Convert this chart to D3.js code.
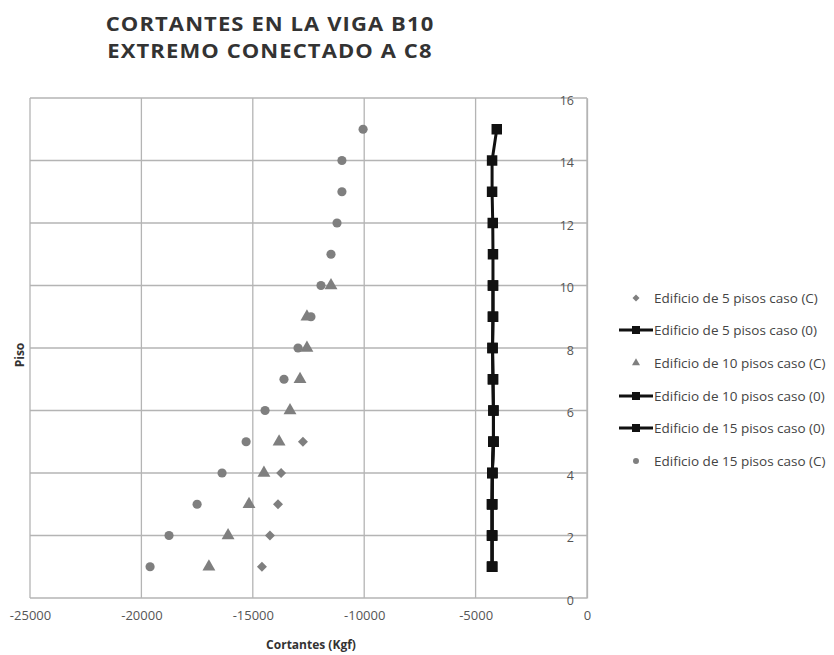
<!DOCTYPE html>
<html><head><meta charset="utf-8">
<script src="https://cdn.jsdelivr.net/npm/d3@7"></script>
<style>body{margin:0;background:#fff}svg{display:block}</style>
</head><body>
<script>
// ---- data ----
const titleLines = ["CORTANTES EN LA VIGA B10", "EXTREMO CONECTADO A C8"];
const xTicks = [-25000, -20000, -15000, -10000, -5000, 0];
const yTicks = [0, 2, 4, 6, 8, 10, 12, 14, 16];

const floors5 = [1, 2, 3, 4, 5];
const floors10 = [1, 2, 3, 4, 5, 6, 7, 8, 9, 10];
const floors15 = [1, 2, 3, 4, 5, 6, 7, 8, 9, 10, 11, 12, 13, 14, 15];

const ed5C = [-14590, -14230, -13870, -13730, -12750];
const ed5O = [-4260, -4260, -4260, -4250, -4200];
const ed10C = [-16970, -16110, -15170, -14500, -13820, -13330, -12880, -12570, -12570, -11490];
const ed10O = [-4260, -4260, -4260, -4250, -4200, -4200, -4220, -4240, -4220, -4220];
const ed15O = [-4260, -4260, -4260, -4250, -4200, -4200, -4220, -4240, -4220, -4220, -4220, -4230, -4260, -4260, -4050];
const ed15C = [-19610, -18760, -17500, -16380, -15300, -14450, -13600, -12970, -12390, -11940, -11490, -11220, -11000, -11000, -10050];

const seriesNames = [
  "Edificio de 5 pisos caso (C)",
  "Edificio de 5 pisos caso (0)",
  "Edificio de 10 pisos caso (C)",
  "Edificio de 10 pisos caso (0)",
  "Edificio de 15 pisos caso (0)",
  "Edificio de 15 pisos caso (C)"
];

const series = [
  {name: seriesNames[0], floors: floors5, vals: ed5C, type: "diamond"},
  {name: seriesNames[1], floors: floors5, vals: ed5O, type: "line"},
  {name: seriesNames[2], floors: floors10, vals: ed10C, type: "triangle"},
  {name: seriesNames[3], floors: floors10, vals: ed10O, type: "line"},
  {name: seriesNames[4], floors: floors15, vals: ed15O, type: "line"},
  {name: seriesNames[5], floors: floors15, vals: ed15C, type: "circle"}
];

// ---- layout ----
const W = 834, H = 655;
const font = "'Open Sans', sans-serif";
const svg = d3.select("body").append("svg").attr("width", W).attr("height", H);

const x = d3.scaleLinear().domain([-25000, 0]).range([30, 587]);
const y = d3.scaleLinear().domain([0, 16]).range([598, 98]);

const grid = "#b4b4b4";
const markGray = "#7f7f7f";

// title
svg.append("g").attr("transform", "translate(270,0) scale(1.1,1)")
  .selectAll("text").data(titleLines).join("text")
  .attr("x", 0).attr("y", (d, i) => 31 + i * 27.5)
  .attr("text-anchor", "middle")
  .attr("font-family", font).attr("font-weight", "bold").attr("font-size", 20)
  .attr("letter-spacing", 1)
  .attr("fill", "#333").text(d => d);

// gridlines
const g = svg.append("g");
g.selectAll("line.h").data(yTicks).join("line").attr("class", "h")
  .attr("x1", x(-25000)).attr("x2", x(0))
  .attr("y1", d => y(d)).attr("y2", d => y(d))
  .attr("stroke", grid).attr("stroke-width", 1.3);
g.selectAll("line.v").data(xTicks).join("line").attr("class", "v")
  .attr("x1", d => x(d)).attr("x2", d => x(d))
  .attr("y1", y(16)).attr("y2", y(0))
  .attr("stroke", grid).attr("stroke-width", 1.3);

// y axis at x=0 (right)
const yAxis = d3.axisLeft(y).tickValues(yTicks).tickSize(0).tickPadding(13);
const ya = svg.append("g").attr("transform", `translate(${x(0)},0)`).call(yAxis);
ya.select(".domain").attr("stroke", grid).attr("stroke-width", 1.3);
ya.selectAll("text").attr("font-family", font).attr("font-size", 12.5).attr("fill", "#555").attr("dy", "0.5em");

// x axis labels
const xAxis = d3.axisBottom(x).tickValues(xTicks).tickSize(0).tickPadding(13).tickFormat(d => String(d));
const xa = svg.append("g").attr("transform", `translate(0,${y(0)})`).call(xAxis);
xa.select(".domain").remove();
xa.selectAll("text").attr("font-family", font).attr("font-size", 13).attr("fill", "#555");

// axis titles
svg.append("text").attr("x", 311).attr("y", 649).attr("text-anchor", "middle")
  .attr("font-family", font).attr("font-weight", "bold").attr("font-size", 12).attr("fill", "#333")
  .text("Cortantes (Kgf)");
svg.append("text").attr("transform", "translate(24,355) rotate(-90)").attr("text-anchor", "middle")
  .attr("font-family", font).attr("font-weight", "bold").attr("font-size", 12).attr("fill", "#333")
  .text("Piso");

// symbols
const diamondPath = r => `M0,${-r}L${r},0L0,${r}L${-r},0Z`;
const symGen = {
  diamond: () => diamondPath(5),
  triangle: d3.symbol().type(d3.symbolTriangle).size(72),
  circle: d3.symbol().type(d3.symbolCircle).size(66),
  square: d3.symbol().type(d3.symbolSquare).size(110)
};

const plot = svg.append("g");
const line = d3.line().x(d => x(d[0])).y(d => y(d[1]));
series.forEach(s => {
  const pts = s.vals.map((v, i) => [v, s.floors[i]]);
  if (s.type === "line") {
    plot.append("path").datum(pts).attr("d", line)
      .attr("fill", "none").attr("stroke", "#111").attr("stroke-width", 3);
    plot.append("g").selectAll("path").data(pts).join("path")
      .attr("transform", d => `translate(${x(d[0])},${y(d[1])})`)
      .attr("d", symGen.square()).attr("fill", "#111");
  } else {
    plot.append("g").selectAll("path").data(pts).join("path")
      .attr("transform", d => `translate(${x(d[0])},${y(d[1])})`)
      .attr("d", symGen[s.type]()).attr("fill", markGray);
  }
});

// legend
const leg = svg.append("g");
const legY = [298, 330, 363, 396, 428, 461];
series.forEach((s, i) => {
  const gy = legY[i];
  const row = leg.append("g").attr("transform", `translate(636,${gy})`);
  if (s.type === "line") {
    row.append("line").attr("x1", -17).attr("x2", 17).attr("stroke", "#111").attr("stroke-width", 3);
    row.append("path").attr("d", d3.symbol().type(d3.symbolSquare).size(64)()).attr("fill", "#111");
  } else if (s.type === "diamond") {
    row.append("path").attr("d", diamondPath(3.5)).attr("fill", markGray);
  } else {
    row.append("path").attr("d", d3.symbol().type(
      s.type === "triangle" ? d3.symbolTriangle : d3.symbolCircle
    ).size(28)()).attr("fill", markGray);
  }
  row.append("text").attr("x", 18).attr("y", 0).attr("dy", "0.35em")
    .attr("font-family", font).attr("font-size", 13.5).attr("fill", "#444").text(s.name);
});
</script>
</body></html>
